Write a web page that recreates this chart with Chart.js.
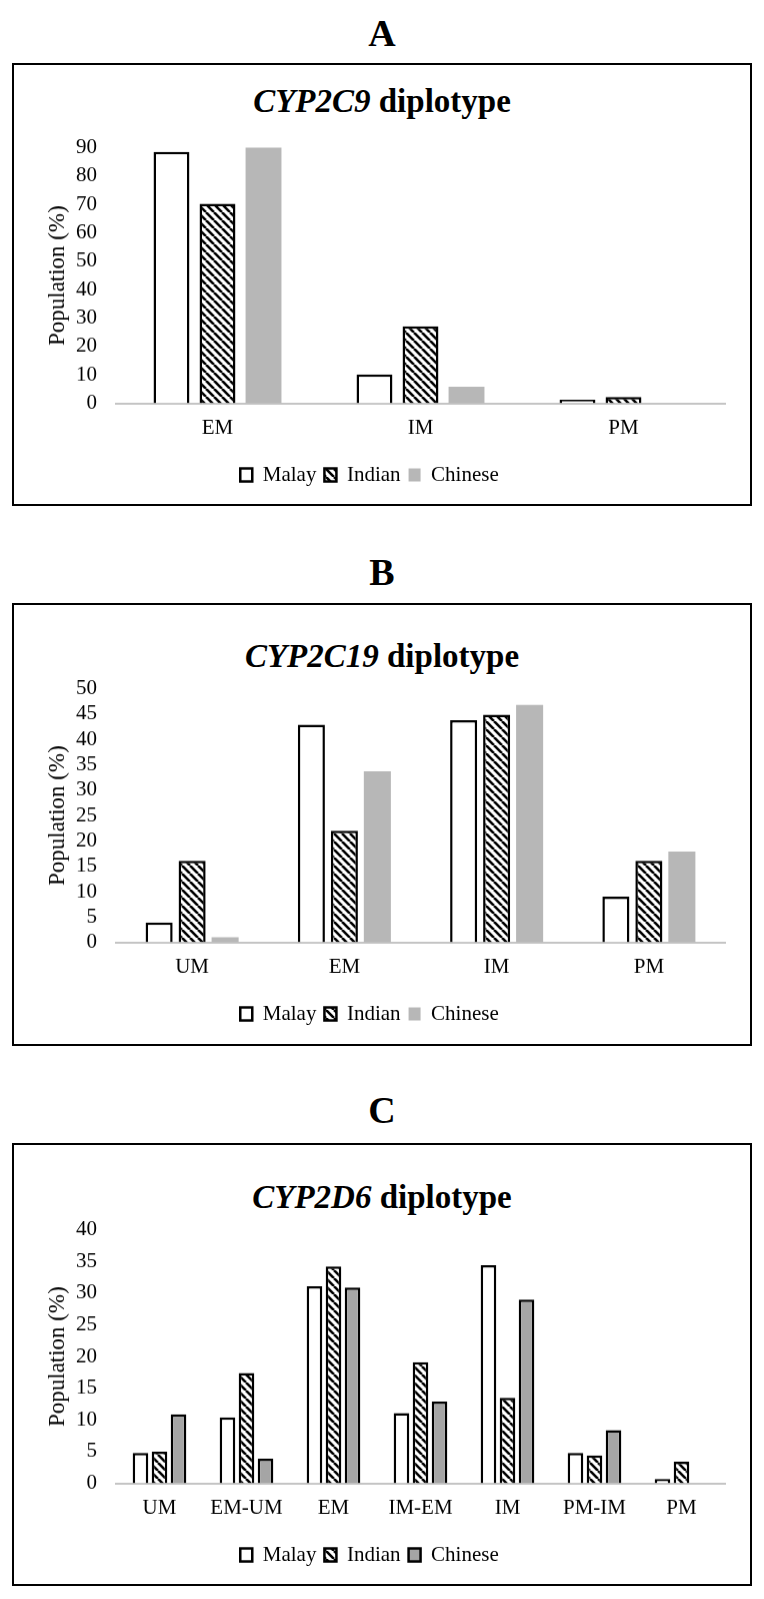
<!DOCTYPE html>
<html>
<head>
<meta charset="utf-8">
<script src="https://cdn.jsdelivr.net/npm/chart.js@4.4.1/dist/chart.umd.min.js"></script>
<style>
  body { margin: 0; background: #fff; width: 764px; height: 1599px; position: relative; overflow: hidden;
         font-family: "Liberation Serif", "Times New Roman", serif; color: #000; }
  .letter { position: absolute; left: 0; width: 764px; text-align: center; font-weight: bold; font-size: 38px; line-height: 38px; }
  .box { position: absolute; left: 12px; width: 740px; height: 443px; border: 2.5px solid #000; box-sizing: border-box; }
  .ttl { position: absolute; left: 0; width: 764px; text-align: center; font-weight: bold; font-size: 33px; line-height: 33px; }
  .wrap { position: absolute; left: 14px; width: 736px; }
</style>
</head>
<body>
<div class="letter" style="top:14px">A</div>
<div class="box" style="top:63px"></div>
<div class="ttl" style="top:85px"><i>CYP2C9</i> diplotype</div>
<div class="wrap" style="top:116.4px;height:387.6px"><canvas id="chartA"></canvas></div>

<div class="letter" style="top:553px">B</div>
<div class="box" style="top:603px"></div>
<div class="ttl" style="top:640px"><i>CYP2C19</i> diplotype</div>
<div class="wrap" style="top:657.4px;height:385.6px"><canvas id="chartB"></canvas></div>

<div class="letter" style="top:1091px">C</div>
<div class="box" style="top:1143px"></div>
<div class="ttl" style="top:1181px"><i>CYP2D6</i> diplotype</div>
<div class="wrap" style="top:1198.4px;height:385.6px"><canvas id="chartC"></canvas></div>

<script>
// panel A - CYP2C9
const phenotypesA = ["EM", "IM", "PM"];
const malayA = [88.5, 10.2, 1.3];
const indianA = [70.3, 27.1, 2.2];
const chineseA = [90.3, 5.9, 0];

// panel B - CYP2C19
const phenotypesB = ["UM", "EM", "IM", "PM"];
const malayB = [3.9, 42.9, 43.8, 9.0];
const indianB = [16.1, 22.0, 44.9, 16.1];
const chineseB = [1.0, 33.7, 46.8, 17.9];

// panel C - CYP2D6
const phenotypesC = ["UM", "EM-UM", "EM", "IM-EM", "IM", "PM-IM", "PM"];
const malayC = [4.8, 10.4, 31.1, 11.1, 34.4, 4.8, 0.7];
const indianC = [5.0, 17.4, 34.2, 19.1, 13.5, 4.4, 3.4];
const chineseC = [10.9, 3.9, 30.9, 12.9, 29.0, 8.4, 0];

const serif = '"Liberation Serif", "Times New Roman", serif';

// diagonal stripes for the Indian bars
function hatchFor(ctx) {
  const tile = document.createElement("canvas");
  tile.width = 8;
  tile.height = 8;
  const g = tile.getContext("2d");
  g.fillStyle = "#fff";
  g.fillRect(0, 0, 8, 8);
  g.strokeStyle = "#000";
  g.lineWidth = 2.6;
  g.beginPath();
  for (let k = -1; k <= 1; k++) {
    g.moveTo(k * 8, 0);
    g.lineTo(k * 8 + 8, 8);
  }
  g.stroke();
  return ctx.createPattern(tile, "repeat");
}

function drawPanel(id, labels, malay, indian, chinese, cfg) {
  const ctx = document.getElementById(id).getContext("2d");
  return new Chart(ctx, {
    type: "bar",
    data: {
      labels: labels,
      datasets: [
        { label: "Malay", data: malay, backgroundColor: "#fff", borderColor: "#000", borderWidth: 2.5 },
        { label: "Indian", data: indian, backgroundColor: hatchFor(ctx), borderColor: "#000", borderWidth: 2.5 },
        { label: "Chinese", data: chinese, backgroundColor: cfg.grey, borderColor: "#000", borderWidth: cfg.greyBorder }
      ]
    },
    options: {
      responsive: true,
      maintainAspectRatio: false,
      animation: false,
      categoryPercentage: cfg.catPct,
      barPercentage: cfg.barPct,
      // top spacing comes from the y tick padding, so the wrapper sits a bit higher
      layout: { padding: { top: 0, right: 25, left: 0, bottom: 9 } },
      plugins: {
        tooltip: { enabled: false },
        legend: {
          position: "bottom",
          labels: { font: { family: serif, size: 21 }, color: "#000", boxWidth: 12, boxHeight: 13, padding: 8 }
        }
      },
      scales: {
        x: {
          grid: { display: false, drawTicks: false },
          border: { display: true, color: "#c4c4c4", width: 2 },
          ticks: { font: { family: serif, size: 21 }, color: "#000", padding: 12 },
          afterFit(s) { s.height = 53; }
        },
        y: {
          min: 0,
          max: cfg.max,
          grid: { display: false, drawTicks: false },
          border: { display: false },
          ticks: { stepSize: cfg.step, autoSkip: false, font: { family: serif, size: 21 }, color: "#000", padding: 19 },
          title: { display: true, text: "Population (%)", font: { family: serif, size: 23 }, color: "#000", padding: { top: 30, bottom: 0 } },
          afterFit(s) { s.width = 102; }
        }
      }
    }
  });
}

drawPanel("chartA", phenotypesA, malayA, indianA, chineseA,
  { max: 90, step: 10, catPct: 0.68, barPct: 0.78, grey: "#b7b7b7", greyBorder: 0 });
drawPanel("chartB", phenotypesB, malayB, indianB, chineseB,
  { max: 50, step: 5, catPct: 0.65, barPct: 0.82, grey: "#b7b7b7", greyBorder: 0 });
drawPanel("chartC", phenotypesC, malayC, indianC, chineseC,
  { max: 40, step: 5, catPct: 0.656, barPct: 0.82, grey: "#a5a5a5", greyBorder: 2.5 });
</script>
</body>
</html>
